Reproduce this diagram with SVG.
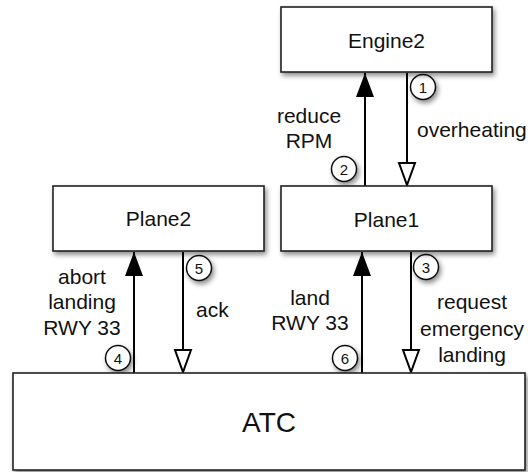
<svg xmlns="http://www.w3.org/2000/svg" width="528" height="472" viewBox="0 0 528 472">
  <style>
    .box { fill: #ffffff; stroke: #222222; stroke-width: 1.6; filter: url(#shadow); }
    .name { font-family: "Liberation Sans", Arial, sans-serif; font-size: 21px; fill: #111111; text-anchor: middle; }
    .big { font-size: 28px; }
    .msg { font-family: "Liberation Sans", Arial, sans-serif; font-size: 21px; fill: #111111; text-anchor: middle; }
    .line { stroke: #000000; stroke-width: 2; fill: none; }
    .req { marker-end: url(#filled); }
    .rsp { marker-end: url(#open); }
    .seq circle { fill: #ffffff; stroke: #111111; stroke-width: 1.5; filter: url(#shadow); }
    .seq text { font-family: "Liberation Sans", Arial, sans-serif; font-size: 15px; fill: #111111; text-anchor: middle; }
  </style>
  <defs>
    <filter id="shadow" x="-20%" y="-20%" width="150%" height="160%">
      <feDropShadow dx="2" dy="3" stdDeviation="2.5" flood-color="#000000" flood-opacity="0.45"/>
    </filter>
    <marker id="filled" markerUnits="userSpaceOnUse" markerWidth="26" markerHeight="20" refX="24" refY="9" orient="auto" overflow="visible">
      <path d="M0,0 L24,9 L0,18 z" fill="#000000"/>
    </marker>
    <marker id="open" markerUnits="userSpaceOnUse" markerWidth="26" markerHeight="20" refX="23" refY="9" orient="auto" overflow="visible">
      <path d="M1,1 L23,9 L1,17 z" fill="#ffffff" stroke="#000000" stroke-width="2" stroke-linejoin="miter"/>
    </marker>
  </defs>

  <!-- message lines -->
  <g id="connectors">
    <line class="line req" x1="365" y1="186" x2="365" y2="73"/>
    <line class="line rsp" x1="407" y1="73" x2="407" y2="185"/>
    <line class="line req" x1="134" y1="373" x2="134" y2="252"/>
    <line class="line rsp" x1="183" y1="252" x2="183" y2="372"/>
    <line class="line req" x1="362" y1="373" x2="362" y2="252"/>
    <line class="line rsp" x1="411" y1="252" x2="411" y2="372"/>

    <text class="msg"><tspan x="309" y="123">reduce</tspan><tspan x="309" y="148">RPM</tspan></text>
    <text class="msg" x="417" y="137" style="text-anchor:start">overheating</text>
    <text class="msg"><tspan x="82" y="284">abort</tspan><tspan x="82" y="309">landing</tspan><tspan x="82" y="335">RWY 33</tspan></text>
    <text class="msg" x="196" y="317" style="text-anchor:start">ack</text>
    <text class="msg"><tspan x="310" y="305">land</tspan><tspan x="310" y="330">RWY 33</tspan></text>
    <text class="msg"><tspan x="472" y="309">request</tspan><tspan x="472" y="336">emergency</tspan><tspan x="472" y="362">landing</tspan></text>

    <g class="seq">
      <circle cx="423" cy="87" r="12.5"/><text x="423" y="92.5">1</text>
      <circle cx="344" cy="169" r="12.5"/><text x="344" y="174.5">2</text>
      <circle cx="426" cy="267" r="12.5"/><text x="426" y="272.5">3</text>
      <circle cx="118" cy="358" r="12.5"/><text x="118" y="363.5">4</text>
      <circle cx="199" cy="268" r="12.5"/><text x="199" y="273.5">5</text>
      <circle cx="345" cy="358" r="12.5"/><text x="345" y="363.5">6</text>
    </g>
  </g>

  <g id="engine2">
    <rect class="box" x="281" y="7" width="211" height="65"/>
    <text class="name" x="386.5" y="48">Engine2</text>
  </g>
  <g id="plane1">
    <rect class="box" x="281" y="186" width="211" height="65"/>
    <text class="name" x="386.5" y="227">Plane1</text>
  </g>
  <g id="plane2">
    <rect class="box" x="53" y="186" width="211" height="65"/>
    <text class="name" x="158.5" y="226">Plane2</text>
  </g>
  <g id="atc">
    <rect class="box" x="13" y="373" width="512" height="97"/>
    <text class="name big" x="269" y="432">ATC</text>
  </g>
</svg>
